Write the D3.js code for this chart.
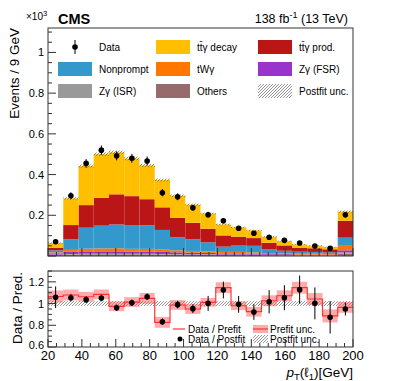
<!DOCTYPE html>
<html><head><meta charset="utf-8">
<script src="https://cdn.jsdelivr.net/npm/d3@7"></script>
<style>body{margin:0;background:#fff}svg{display:block;font-family:"Liberation Sans",Arial,sans-serif}</style>
</head><body><svg id="c" width="393" height="381"></svg>
<script>
// ---------- data (values in units of 10^3 events / 9 GeV) ----------
const binLow  = [20,29,38,47,56,65,74,83,92,101,110,119,128,137,146,155,164,173,182,191];
const binHigh = [29,38,47,56,65,74,83,92,101,110,119,128,137,146,155,164,173,182,191,200];
const others    = [0.005,0.007,0.008,0.008,0.008,0.008,0.008,0.007,0.007,0.006,0.006,0.005,0.005,0.005,0.004,0.004,0.003,0.003,0.003,0.012];
const zgISR     = [0.002,0.003,0.003,0.003,0.003,0.003,0.003,0.003,0.002,0.002,0.002,0.002,0.002,0.002,0.001,0.001,0.001,0.001,0.001,0.006];
const zgFSR     = [0.006,0.010,0.012,0.012,0.012,0.011,0.011,0.010,0.009,0.008,0.007,0.006,0.006,0.005,0.004,0.004,0.003,0.003,0.003,0.010];
const tWg       = [0.005,0.010,0.013,0.014,0.015,0.013,0.013,0.011,0.010,0.009,0.008,0.007,0.007,0.006,0.005,0.004,0.004,0.004,0.003,0.026];
const nonprompt = [0.010,0.052,0.103,0.112,0.117,0.117,0.116,0.097,0.064,0.057,0.044,0.026,0.031,0.032,0.020,0.013,0.010,0.009,0.008,0.036];
const ttgProd   = [0.013,0.070,0.111,0.137,0.148,0.142,0.128,0.111,0.096,0.081,0.067,0.055,0.044,0.038,0.031,0.026,0.020,0.018,0.015,0.083];
const ttgDecay  = [0.023,0.131,0.192,0.214,0.206,0.185,0.166,0.134,0.108,0.089,0.075,0.054,0.046,0.038,0.030,0.022,0.016,0.013,0.011,0.045];
const postUnc   = [0.003,0.006,0.008,0.009,0.009,0.009,0.008,0.007,0.006,0.005,0.004,0.004,0.003,0.003,0.003,0.002,0.002,0.002,0.002,0.005];
const dataVal   = [0.070,0.296,0.455,0.520,0.492,0.480,0.467,0.311,0.291,0.237,0.203,0.173,0.136,0.112,0.092,0.077,0.064,0.049,0.038,0.203];
const dataErr   = [0.008,0.017,0.021,0.023,0.022,0.022,0.022,0.018,0.017,0.015,0.014,0.013,0.012,0.011,0.010,0.009,0.008,0.007,0.006,0.014];
// ratio panel
const ratioPost    = [1.058,1.054,1.036,1.051,0.962,1.008,1.063,0.833,0.990,0.953,1.002,1.125,0.993,0.922,1.017,1.054,1.128,1.002,0.873,0.950];
const ratioPostErr = [0.100,0.035,0.030,0.030,0.030,0.030,0.030,0.030,0.035,0.040,0.069,0.077,0.077,0.072,0.107,0.115,0.130,0.147,0.149,0.060];
const ratioPre     = [1.065,1.079,1.063,1.085,0.975,1.014,1.048,0.827,0.987,0.950,1.011,1.146,0.980,0.925,1.026,1.072,1.146,1.042,0.886,0.965];
const preUnc       = [0.055,0.050,0.045,0.045,0.045,0.045,0.050,0.050,0.045,0.045,0.040,0.050,0.040,0.045,0.050,0.050,0.055,0.055,0.060,0.050];
const postRatioUnc = [0.022,0.022,0.022,0.022,0.022,0.022,0.022,0.022,0.022,0.022,0.022,0.022,0.022,0.022,0.022,0.022,0.022,0.022,0.022,0.022];
const mainYTicks  = [0.2,0.4,0.6,0.8,1];
const ratioYTicks = [0.6,0.8,1,1.2];
const xTicks      = [20,40,60,80,100,120,140,160,180,200];

const layers = [
  {name:"Others",   vals:others,    color:"#976a6e"},
  {name:"Zγ (ISR)", vals:zgISR,     color:"#999999"},
  {name:"Zγ (FSR)", vals:zgFSR,     color:"#9933cc"},
  {name:"tWγ",      vals:tWg,       color:"#ff7700"},
  {name:"Nonprompt",vals:nonprompt, color:"#3399cc"},
  {name:"tt\u0304γ prod.", vals:ttgProd, color:"#bb1616"},
  {name:"tt\u0304γ decay", vals:ttgDecay, color:"#ffbf00"}
];

// ---------- layout ----------
const L=48, R=353, mT=28, mB=256, rT=271, rB=347;
const svg=d3.select("#c");
const defs=svg.append("defs");
const pat=defs.append("pattern").attr("id","hatch").attr("patternUnits","userSpaceOnUse")
  .attr("width",3).attr("height",3);
pat.append("path").attr("d","M-1,4 L4,-1 M-1,1 L1,-1 M2,4 L4,2").attr("stroke","#666").attr("stroke-width",0.7);

const x=d3.scaleLinear().domain([20,200]).range([L,R]);
const y=d3.scaleLinear().domain([0,1.12]).range([mB,mT]);
const yr=d3.scaleLinear().domain([0.6,1.3]).range([rB,rT]);

const bins=binLow.map((lo,i)=>({i,lo,hi:binHigh[i]}));
const stackData=bins.map(b=>{const o={i:b.i};layers.forEach((l,k)=>o["k"+k]=l.vals[b.i]);return o;});
const series=d3.stack().keys(layers.map((l,k)=>"k"+k))(stackData);

const gMain=svg.append("g");
series.forEach((s,k)=>{
  gMain.selectAll(null).data(s).enter().append("rect")
    .attr("x",(d,i)=>x(binLow[i])).attr("width",(d,i)=>x(binHigh[i])-x(binLow[i]))
    .attr("y",d=>y(d[1])).attr("height",d=>Math.max(0,y(d[0])-y(d[1])))
    .attr("fill",layers[k].color);
});
const totals=series[series.length-1].map(d=>d[1]);
// postfit unc hatch on top of stack
gMain.selectAll(null).data(bins).enter().append("rect")
  .attr("x",b=>x(b.lo)).attr("width",b=>x(b.hi)-x(b.lo))
  .attr("y",b=>y(totals[b.i]+postUnc[b.i])).attr("height",b=>y(totals[b.i]-postUnc[b.i])-y(totals[b.i]+postUnc[b.i]))
  .attr("fill","url(#hatch)");
// data points
const gd=gMain.selectAll(null).data(bins).enter().append("g");
gd.append("line").attr("x1",b=>x((b.lo+b.hi)/2)).attr("x2",b=>x((b.lo+b.hi)/2))
  .attr("y1",b=>y(dataVal[b.i]-dataErr[b.i])).attr("y2",b=>y(dataVal[b.i]+dataErr[b.i]))
  .attr("stroke","#000").attr("stroke-width",1);
gd.append("circle").attr("cx",b=>x((b.lo+b.hi)/2)).attr("cy",b=>y(dataVal[b.i])).attr("r",2.8).attr("fill","#000");

// main frame & axes
svg.append("rect").attr("x",L).attr("y",mT).attr("width",R-L).attr("height",mB-mT)
  .attr("fill","none").attr("stroke","#333").attr("stroke-width",1);
function yTicksInside(scale,lo,hi,step,major){
  const g=svg.append("g");
  const minors=d3.range(Math.round(lo/step),Math.round(hi/step)+1).map(k=>k*step);
  minors.forEach(v=>{
    const isMaj=major.some(m=>Math.abs(m-v)<1e-9);
    g.append("line").attr("x1",L).attr("x2",L+(isMaj?8:4)).attr("y1",scale(v)).attr("y2",scale(v))
      .attr("stroke","#333").attr("stroke-width",1);
  });
}
yTicksInside(y,0,1.1,0.05,[0,0.2,0.4,0.6,0.8,1]);
svg.append("g").selectAll(null).data(mainYTicks).enter().append("text")
  .attr("x",L-4).attr("y",d=>y(d)+4).attr("text-anchor","end").attr("font-size",11).text(d=>d);
function xTicksInside(top,bottom){
  const g=svg.append("g");
  d3.range(20,201,5).forEach(v=>{
    const isMaj=v%20===0;
    g.append("line").attr("x1",x(v)).attr("x2",x(v)).attr("y1",bottom).attr("y2",bottom-(isMaj?8:4))
      .attr("stroke","#333").attr("stroke-width",1);
  });
}
xTicksInside(mT,mB);

// texts
svg.append("text").attr("x",58).attr("y",24).attr("font-size",14.5).attr("font-weight","bold").text("CMS");
const lum=svg.append("text").attr("x",348).attr("y",23).attr("text-anchor","end").attr("font-size",12.5);
lum.append("tspan").text("138 fb");
lum.append("tspan").attr("dy",-5).attr("font-size",9).text("-1");
lum.append("tspan").attr("dy",5).text(" (13 TeV)");
const ex=svg.append("text").attr("x",26).attr("y",20).attr("font-size",10);
ex.append("tspan").text("×10");
ex.append("tspan").attr("dy",-4).attr("font-size",7.5).text("3");
svg.append("text").attr("transform","translate(19,28) rotate(-90)").attr("text-anchor","end")
  .attr("font-size",13.5).text("Events / 9 GeV");

// legend
const leg=svg.append("g").attr("font-size",10);
const legItems=[
  {t:"Data",type:"data",c:0,r:0},
  {t:"tt\u0304γ decay",type:"box",color:"#ffbf00",c:1,r:0},
  {t:"tt\u0304γ prod.",type:"box",color:"#bb1616",c:2,r:0},
  {t:"Nonprompt",type:"box",color:"#3399cc",c:0,r:1},
  {t:"tWγ",type:"box",color:"#ff7700",c:1,r:1},
  {t:"Zγ (FSR)",type:"box",color:"#9933cc",c:2,r:1},
  {t:"Zγ (ISR)",type:"box",color:"#999999",c:0,r:2},
  {t:"Others",type:"box",color:"#976a6e",c:1,r:2},
  {t:"Postfit unc.",type:"hatch",c:2,r:2}
];
const colX=[58,156,258], rowY=[47,69,91];
legItems.forEach(it=>{
  const bx=colX[it.c], cy=rowY[it.r];
  if(it.type==="data"){
    leg.append("line").attr("x1",bx+17).attr("x2",bx+17).attr("y1",cy-7).attr("y2",cy+7).attr("stroke","#000");
    leg.append("circle").attr("cx",bx+17).attr("cy",cy).attr("r",2.8).attr("fill","#000");
  } else if(it.type==="box"){
    leg.append("rect").attr("x",bx).attr("y",cy-7).attr("width",34).attr("height",14).attr("fill",it.color);
  } else {
    leg.append("rect").attr("x",bx).attr("y",cy-7).attr("width",34).attr("height",14).attr("fill","url(#hatch)");
  }
  leg.append("text").attr("x",bx+41).attr("y",cy+3.5).text(it.t);
});

// ---------- ratio panel ----------
const gR=svg.append("g");
// postfit hatch band
gR.selectAll(null).data(bins).enter().append("rect")
  .attr("x",b=>x(b.lo)).attr("width",b=>x(b.hi)-x(b.lo))
  .attr("y",b=>yr(1+postRatioUnc[b.i])).attr("height",b=>yr(1-postRatioUnc[b.i])-yr(1+postRatioUnc[b.i]))
  .attr("fill","url(#hatch)");
// prefit band
gR.selectAll(null).data(bins).enter().append("rect")
  .attr("x",b=>x(b.lo)).attr("width",b=>x(b.hi)-x(b.lo))
  .attr("y",b=>yr(ratioPre[b.i]+preUnc[b.i])).attr("height",b=>yr(ratioPre[b.i]-preUnc[b.i])-yr(ratioPre[b.i]+preUnc[b.i]))
  .attr("fill","#ff6666").attr("fill-opacity",0.55);
// prefit step line
const stepPts=[];
bins.forEach(b=>{stepPts.push([x(b.lo),yr(ratioPre[b.i])]);stepPts.push([x(b.hi),yr(ratioPre[b.i])]);});
gR.append("path").attr("d",d3.line()(stepPts)).attr("fill","none").attr("stroke","#ff3333").attr("stroke-width",1.2);
// postfit points
const gp=gR.selectAll(null).data(bins).enter().append("g");
gp.append("line").attr("x1",b=>x((b.lo+b.hi)/2)).attr("x2",b=>x((b.lo+b.hi)/2))
  .attr("y1",b=>yr(ratioPost[b.i]-ratioPostErr[b.i])).attr("y2",b=>yr(ratioPost[b.i]+ratioPostErr[b.i]))
  .attr("stroke","#000");
gp.append("circle").attr("cx",b=>x((b.lo+b.hi)/2)).attr("cy",b=>yr(ratioPost[b.i])).attr("r",2.8).attr("fill","#000");

svg.append("rect").attr("x",L).attr("y",rT).attr("width",R-L).attr("height",rB-rT)
  .attr("fill","none").attr("stroke","#333");
yTicksInside(yr,0.6,1.3,0.05,[0.6,0.8,1,1.2]);
xTicksInside(rT,rB);
svg.append("g").selectAll(null).data(ratioYTicks).enter().append("text")
  .attr("x",L-4).attr("y",d=>yr(d)+(d===0.6?2:4)).attr("text-anchor","end").attr("font-size",11).text(d=>d);
svg.append("g").selectAll(null).data(xTicks).enter().append("text")
  .attr("x",d=>x(d)).attr("y",rB+13).attr("text-anchor","middle").attr("font-size",13).text(d=>d);
svg.append("text").attr("transform","translate(22,272) rotate(-90)").attr("text-anchor","end")
  .attr("font-size",13.5).text("Data / Pred.");
const xt=svg.append("text").attr("x",R).attr("y",377).attr("text-anchor","end").attr("font-size",13.5);
xt.append("tspan").attr("font-style","italic").text("p");
xt.append("tspan").attr("dy",3).attr("font-size",9.5).text("T");
xt.append("tspan").attr("dy",-3).text("(ℓ");
xt.append("tspan").attr("dy",3).attr("font-size",9.5).text("1");
xt.append("tspan").attr("dy",-3).text(")[GeV]");

// ratio legend
const rl=svg.append("g").attr("font-size",10);
rl.append("line").attr("x1",173).attr("x2",185).attr("y1",329).attr("y2",329).attr("stroke","#ff3333").attr("stroke-width",1.2);
rl.append("text").attr("x",188).attr("y",332.5).text("Data / Prefit");
rl.append("circle").attr("cx",180).attr("cy",339).attr("r",2.5).attr("fill","#000");
rl.append("text").attr("x",188).attr("y",342.5).text("Data / Postfit");
rl.append("rect").attr("x",253).attr("y",325).attr("width",15).attr("height",8).attr("fill","#ff6666").attr("fill-opacity",0.55);
rl.append("line").attr("x1",253).attr("x2",268).attr("y1",329).attr("y2",329).attr("stroke","#ff3333").attr("stroke-width",1.2);
rl.append("text").attr("x",270).attr("y",332.5).text("Prefit unc.");
rl.append("rect").attr("x",253).attr("y",335).attr("width",15).attr("height",8).attr("fill","url(#hatch)");
rl.append("text").attr("x",270).attr("y",342.5).text("Postfit unc.");
</script></body></html>
